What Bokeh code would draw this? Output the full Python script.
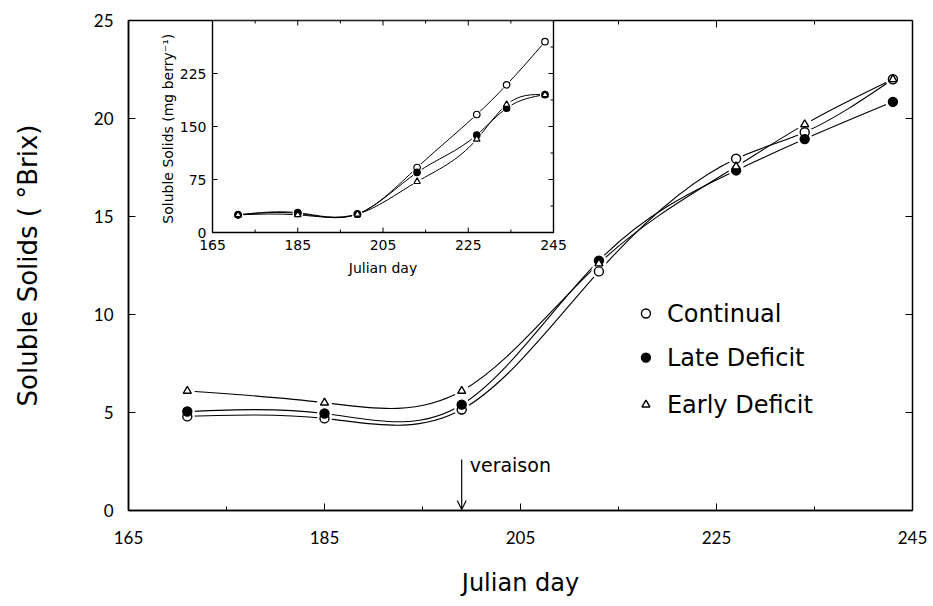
import numpy as np
from bokeh.plotting import figure
from bokeh.models import Range1d, FixedTicker, Arrow, OpenHead, Label
from bokeh.core.properties import value
from bokeh.embed import file_html
from bokeh.resources import INLINE

# ---------------- data ----------------
days = [171, 185, 199, 213, 227, 234, 243]
brix_continual = [4.8, 4.7, 5.15, 12.2, 17.95, 19.3, 22.0]
brix_late = [5.05, 4.95, 5.4, 12.75, 17.35, 18.95, 20.85]
brix_early = [6.1, 5.5, 6.1, 12.6, 17.55, 19.7, 22.0]

mg_continual = [25, 27, 26, 92, 167, 209, 270]
mg_late = [25, 28, 26, 85, 138, 176, 195]
mg_early = [25, 25, 26, 72, 132, 181, 195]

series_names = ["Continual", "Late Deficit", "Early Deficit"]
x_ticks = [165, 185, 205, 225, 245]
x_minor = [175, 195, 215, 235]
y_ticks = [0, 5, 10, 15, 20, 25]
inset_y_ticks = [0, 75, 150, 225]
inset_y_minor = [37.5, 112.5, 187.5, 262.5]
veraison_day = 199

TICK_FONT = "Lato"
FONT = "DejaVu Sans"

# ---------------- layout constants (px) ----------------
W, H = 933, 606
FL, FR, FT, FB = 128, 912, 20, 510
IL, IR, IT, IB = 212, 553, 20, 232
XMIN, XMAX, YMIN, YMAX = 165, 245, 0, 25
PX_X = (XMAX - XMIN) / (FR - FL)   # data units per px
PX_Y = (YMAX - YMIN) / (FB - FT)

p = figure(width=W, height=H, output_backend="svg", toolbar_location=None,
           x_range=Range1d(XMIN, XMAX), y_range=Range1d(YMIN, YMAX),
           min_border_left=FL, min_border_right=W - FR,
           min_border_top=FT, min_border_bottom=H - FB)
p.grid.visible = False
p.outline_line_color = "black"
p.outline_line_width = 1.5
p.background_fill_color = "white"
p.border_fill_color = "white"

for ax in (p.xaxis[0], p.yaxis[0]):
    ax.major_tick_in = 7
    ax.major_tick_out = 0
    ax.minor_tick_in = 4
    ax.minor_tick_out = 0
    ax.axis_line_color = "black"
    ax.axis_line_width = 1.5
    ax.major_tick_line_color = "black"
    ax.minor_tick_line_color = "black"
    ax.major_label_text_font = TICK_FONT
    ax.major_label_text_font_size = "17px"
    ax.major_label_text_color = "black"
    ax.axis_label_text_font = FONT
    ax.axis_label_text_font_style = "normal"
    ax.axis_label_text_color = "black"

p.xaxis.ticker = FixedTicker(ticks=x_ticks, minor_ticks=x_minor)
p.yaxis.ticker = FixedTicker(ticks=y_ticks, minor_ticks=[])
p.xaxis.axis_label = "Julian day"
p.yaxis.axis_label = "Soluble Solids ( °Brix)"
p.xaxis.axis_label_text_font_size = "24px"
p.yaxis.axis_label_text_font_size = "26px"
p.xaxis.major_label_standoff = 20
p.xaxis.axis_label_standoff = 22
p.yaxis.major_label_standoff = 15
p.yaxis.axis_label_standoff = 48

# top and right inward ticks
p.segment(x0=x_ticks, y0=[YMAX] * 5, x1=x_ticks, y1=[YMAX - 7 * PX_Y] * 5, line_color="black")
p.segment(x0=x_minor, y0=[YMAX] * 4, x1=x_minor, y1=[YMAX - 4 * PX_Y] * 4, line_color="black")
p.segment(x0=[XMAX] * 6, y0=y_ticks, x1=[XMAX - 7 * PX_X] * 6, y1=y_ticks, line_color="black")


# ---------------- smooth curves (natural cubic spline -> bezier) ----------------
def spline_bezier(xs, ys):
    x = np.asarray(xs, float)
    y = np.asarray(ys, float)
    n = len(x)
    h = np.diff(x)
    A = np.zeros((n, n))
    b = np.zeros(n)
    A[0, 0] = 1
    A[-1, -1] = 1
    for i in range(1, n - 1):
        A[i, i - 1] = h[i - 1]
        A[i, i] = 2 * (h[i - 1] + h[i])
        A[i, i + 1] = h[i]
        b[i] = 6 * ((y[i + 1] - y[i]) / h[i] - (y[i] - y[i - 1]) / h[i - 1])
    M = np.linalg.solve(A, b)
    s = (y[1:] - y[:-1]) / h
    m0 = s - h * (2 * M[:-1] + M[1:]) / 6
    m1 = s + h * (M[:-1] + 2 * M[1:]) / 6
    return dict(x0=x[:-1], y0=y[:-1], x1=x[1:], y1=y[1:],
                cx0=x[:-1] + h / 3, cy0=y[:-1] + m0 * h / 3,
                cx1=x[1:] - h / 3, cy1=y[1:] - m1 * h / 3)


main_series = [brix_continual, brix_late, brix_early]
for vals in main_series:
    p.bezier(**spline_bezier(days, vals), line_color="black", line_width=1.1)

markers = [("circle", "white"), ("circle", "black"), ("triangle", "white")]
for vals in main_series:
    p.scatter(days, vals, marker="circle", size=15, fill_color="white", line_color=None)
for vals, (mk, fc) in zip(main_series, markers):
    p.scatter(days, vals, marker=mk, size=9 if mk == "circle" else 8,
              fill_color=fc, line_color="black", line_width=1.4)

# ---------------- legend (manual) ----------------
leg_x = 217.8
leg_y = [10.05, 7.8, 5.4]
for (mk, fc), ly in zip(markers, leg_y):
    p.scatter([leg_x], [ly], marker=mk, size=9 if mk == "circle" else 8,
              fill_color=fc, line_color="black", line_width=1.4)
p.text(x=[leg_x] * 3, y=leg_y, text=series_names, x_offset=21,
       text_font=value(FONT), text_font_size="24px", text_color="black",
       text_baseline="middle", text_align="left")

# ---------------- veraison arrow ----------------
p.add_layout(Arrow(end=OpenHead(size=9, line_width=1.2, line_color="black"),
                   x_start=veraison_day, y_start=2.6, x_end=veraison_day, y_end=0.05,
                   line_color="black", line_width=1.2))
p.add_layout(Label(x=veraison_day, y=2.3, x_offset=8, text="veraison",
                   text_font=FONT, text_font_size="19px", text_color="black",
                   text_baseline="middle"))

# ---------------- inset ----------------
ipx = 80.0 / (IR - IL)
ix_start = 165 - (IL - FL) * ipx
ix_end = 245 + (FR - IR) * ipx
ipy = 300.0 / (IB - IT)
iy_start = 0 - (FB - IB) * ipy
iy_end = 300 + (IT - FT) * ipy
p.extra_x_ranges = {"ix": Range1d(ix_start, ix_end)}
p.extra_y_ranges = {"iy": Range1d(iy_start, iy_end)}
R = dict(x_range_name="ix", y_range_name="iy")

p.quad(left=[165], right=[245], bottom=[0], top=[300], fill_color="white",
       line_color="black", line_width=1.4, **R)

inset_series = [mg_continual, mg_late, mg_early]
for vals in inset_series:
    p.bezier(**spline_bezier(days, vals), line_color="black", line_width=1.0, **R)
for vals in inset_series:
    p.scatter(days, vals, marker="circle", size=10, fill_color="white", line_color=None, **R)
for vals, (mk, fc) in zip(inset_series, markers):
    p.scatter(days, vals, marker=mk, size=6.5, fill_color=fc, line_color="black",
              line_width=1.2, **R)

tick_len_x = 5 * ipy
tick_len_y = 5 * ipx
minor_len_x = 3 * ipy
minor_len_y = 3 * ipx
p.segment(x0=x_ticks, y0=[0] * 5, x1=x_ticks, y1=[tick_len_x] * 5, line_color="black", **R)
p.segment(x0=x_minor, y0=[0] * 4, x1=x_minor, y1=[minor_len_x] * 4, line_color="black", **R)
p.segment(x0=x_ticks, y0=[300] * 5, x1=x_ticks, y1=[300 - tick_len_x] * 5, line_color="black", **R)
p.segment(x0=x_minor, y0=[300] * 4, x1=x_minor, y1=[300 - minor_len_x] * 4, line_color="black", **R)
p.segment(x0=[165] * 4, y0=inset_y_ticks, x1=[165 + tick_len_y] * 4, y1=inset_y_ticks, line_color="black", **R)
p.segment(x0=[245] * 4, y0=inset_y_ticks, x1=[245 - tick_len_y] * 4, y1=inset_y_ticks, line_color="black", **R)
p.segment(x0=[245] * 4, y0=inset_y_minor, x1=[245 - minor_len_y] * 4, y1=inset_y_minor, line_color="black", **R)

p.text(x=x_ticks, y=[0] * 5, text=[str(t) for t in x_ticks], y_offset=7,
       text_font=value(FONT), text_font_size="14px", text_color="black",
       text_align="center", text_baseline="top", **R)
p.text(x=[165] * 4, y=inset_y_ticks, text=[str(t) for t in inset_y_ticks], x_offset=-6,
       text_font=value(FONT), text_font_size="14px", text_color="black",
       text_align="right", text_baseline="middle", **R)
p.text(x=[205], y=[0], text=["Julian day"], y_offset=35,
       text_font=value(FONT), text_font_size="14px", text_color="black",
       text_align="center", text_baseline="middle", **R)
p.text(x=[165], y=[150], text=["Soluble Solids (mg  berry⁻¹)"], x_offset=-45,
       angle=np.pi / 2, text_font=value(FONT), text_font_size="14px", text_color="black",
       text_align="center", text_baseline="middle", **R)

open("out.html", "w").write(file_html(p, INLINE))
